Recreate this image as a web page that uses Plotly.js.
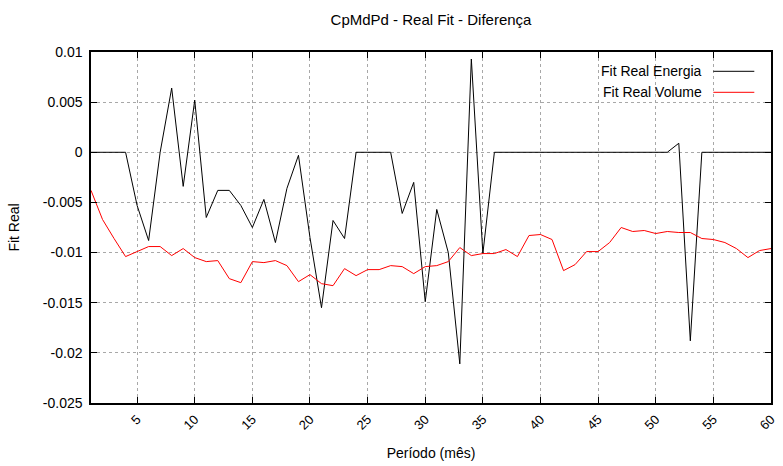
<!DOCTYPE html>
<html>
<head>
<meta charset="utf-8">
<script src="https://cdn.plot.ly/plotly-3.0.1.min.js"></script>
<style>html,body{margin:0;padding:0;background:#fff;}#chart{width:783px;height:466px;}</style>
</head>
<body>
<div id="chart"></div>
<script>
const periods = Array.from({length: 60}, (_, i) => i + 1);

const fitRealEnergia = [
  0, 0, 0, 0, -0.0053, -0.0088, 0, 0.0064, -0.0034, 0.0052,
  -0.0065, -0.0038, -0.0038, -0.0053, -0.0075, -0.0047, -0.0090, -0.0036, -0.0003, -0.0085,
  -0.0155, -0.0068, -0.0086, 0, 0, 0, 0, -0.0061, -0.0030, -0.0149,
  -0.0057, -0.0100, -0.0211, 0.0093, -0.0101, 0, 0, 0, 0, 0,
  0, 0, 0, 0, 0, 0, 0, 0, 0, 0,
  0, 0.0009, -0.0188, 0, 0, 0, 0, 0, 0, 0
];

const fitRealVolume = [
  -0.0038, -0.0067, -0.0086, -0.0104, -0.0099, -0.0094, -0.0094, -0.0103, -0.0096, -0.0105,
  -0.0109, -0.0108, -0.0126, -0.0130, -0.0109, -0.0110, -0.0108, -0.0113, -0.0129, -0.0122,
  -0.0131, -0.0133, -0.0116, -0.0123, -0.0117, -0.0117, -0.0113, -0.0114, -0.0121, -0.0114,
  -0.0113, -0.0109, -0.0095, -0.0103, -0.0101, -0.0101, -0.0097, -0.0104, -0.0083, -0.0082,
  -0.0087, -0.0118, -0.0112, -0.0099, -0.0099, -0.0090, -0.0075, -0.0079, -0.0078, -0.0081,
  -0.0079, -0.0080, -0.0080, -0.0086, -0.0087, -0.0090, -0.0096, -0.0105, -0.0098, -0.0096
];

const seriesNames = ["Fit Real Energia", "Fit Real Volume"];
const yTickVals = [0.01, 0.005, 0, -0.005, -0.01, -0.015, -0.02, -0.025];
const yTickText = ["0.01", "0.005", "0", "-0.005", "-0.01", "-0.015", "-0.02", "-0.025"];
const xTickVals = [5, 10, 15, 20, 25, 30, 35, 40, 45, 50, 55, 60];
const xTickText = ["5", "10", "15", "20", "25", "30", "35", "40", "45", "50", "55", "60"];

const FONT = "Liberation Sans, Arial, Helvetica, sans-serif";

const traces = [
  {x: periods, y: fitRealEnergia, type: "scatter", mode: "lines", name: seriesNames[0],
   line: {color: "#000000", width: 1}},
  {x: periods, y: fitRealVolume, type: "scatter", mode: "lines", name: seriesNames[1],
   line: {color: "#ff0000", width: 1}}
];

const L = 90.5, R = 12.3, T = 51.7, B = 63.3, W = 783, H = 466;
const pw = W - L - R, ph = H - T - B;
const px = v => (v - L) / pw;       // pixel -> paper x
const py = v => (H - B - v) / ph;   // pixel -> paper y

const layout = {
  width: W, height: H,
  margin: {l: L, r: R, t: T, b: B, pad: 0},
  paper_bgcolor: "#ffffff", plot_bgcolor: "#ffffff",
  font: {family: FONT, size: 13, color: "#000"},
  showlegend: false,
  title: {text: "CpMdPd - Real Fit - Diferença", font: {family: FONT, size: 15, color: "#000"},
          x: 0.5, xref: "paper", y: 1 - 20/466, yanchor: "middle"},
  xaxis: {
    range: [1, 60], tickvals: xTickVals, ticktext: xTickText, tickangle: -45,
    ticks: "inside", ticklen: 6, tickcolor: "#000", tickwidth: 1,
    showline: true, linecolor: "#000", linewidth: 1.7, mirror: "ticks",
    showgrid: true, gridcolor: "#a8a8a8", griddash: "dot", gridwidth: 1,
    zeroline: false, tickfont: {family: FONT, size: 13}, ticklabelstandoff: 2,
    title: {text: "Período (mês)", font: {family: FONT, size: 14}, standoff: 16}
  },
  yaxis: {
    range: [-0.025, 0.01], tickvals: yTickVals, ticktext: yTickText,
    ticks: "inside", ticklen: 6, tickcolor: "#000", tickwidth: 1,
    showline: true, linecolor: "#000", linewidth: 1.7, mirror: "ticks",
    showgrid: true, gridcolor: "#a8a8a8", griddash: "dot", gridwidth: 1,
    zeroline: false, tickfont: {family: FONT, size: 14}, ticklabelstandoff: 4,
    title: {text: "Fit Real", font: {family: FONT, size: 14}, standoff: 20}
  },
  shapes: [
    {type: "rect", xref: "paper", yref: "paper", x0: px(568), x1: 1, y0: py(104), y1: 1,
     fillcolor: "#ffffff", line: {width: 0}, layer: "between"},
    {type: "line", xref: "paper", yref: "paper", x0: px(713), x1: px(754), y0: py(71), y1: py(71),
     line: {color: "#000000", width: 1}},
    {type: "line", xref: "paper", yref: "paper", x0: px(713), x1: px(754), y0: py(92), y1: py(92),
     line: {color: "#ff0000", width: 1}}
  ],
  annotations: [
    {text: seriesNames[0], xref: "paper", yref: "paper", x: px(704), y: py(71),
     xanchor: "right", yanchor: "middle", showarrow: false, font: {family: FONT, size: 14}},
    {text: seriesNames[1], xref: "paper", yref: "paper", x: px(704), y: py(92),
     xanchor: "right", yanchor: "middle", showarrow: false, font: {family: FONT, size: 14}}
  ]
};

Plotly.newPlot("chart", traces, layout, {displayModeBar: false, staticPlot: true});
</script>
</body>
</html>
